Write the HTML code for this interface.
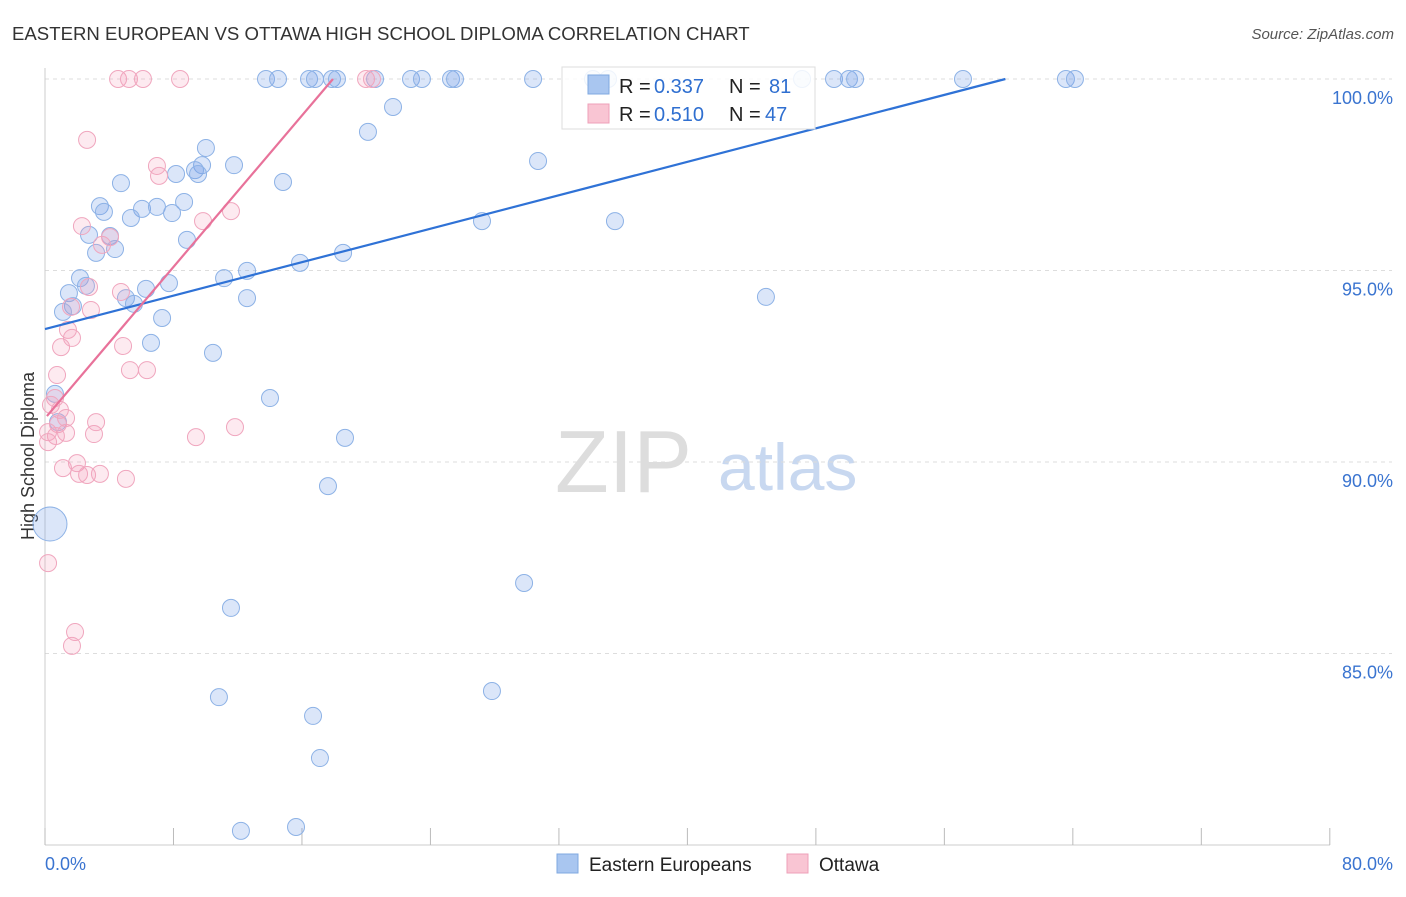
<!DOCTYPE html>
<html><head><meta charset="utf-8"><style>
body{margin:0;background:#fff;font-family:"Liberation Sans",sans-serif;}
svg text{font-family:"Liberation Sans",sans-serif;}
</style></head><body>
<svg id="chart" width="1406" height="892">
<text x="12" y="40" font-size="18.6" fill="#333">EASTERN EUROPEAN VS OTTAWA HIGH SCHOOL DIPLOMA CORRELATION CHART</text>
<text x="1394" y="39" font-size="15" fill="#555" font-style="italic" text-anchor="end">Source: ZipAtlas.com</text>
<text transform="translate(34,456) rotate(-90)" font-size="18" fill="#333" text-anchor="middle">High School Diploma</text>
<text x="555" y="492" font-size="88" fill="#ddd" font-family="Liberation Serif">ZIP</text>
<text x="718" y="490" font-size="66" fill="#c8d8f0">atlas</text>
<g id="grid"></g><g id="axes"></g><g id="pts"></g><g id="lines"></g>
<g>
<rect x="562" y="67" width="253" height="62" fill="#fff" fill-opacity="0.85" stroke="#ddd"/>
<rect x="588" y="75" width="21" height="19" fill="#a9c6f0" stroke="#7fa8e0"/>
<rect x="588" y="104" width="21" height="19" fill="#f9c5d3" stroke="#eea0b8"/>
<text x="619" y="93" font-size="20" fill="#222">R =</text>
<text x="654" y="93" font-size="20" fill="#2f6fd0">0.337</text>
<text x="729" y="93" font-size="20" fill="#222">N =</text>
<text x="769" y="93" font-size="20" fill="#2f6fd0">81</text>
<text x="619" y="121" font-size="20" fill="#222">R =</text>
<text x="654" y="121" font-size="20" fill="#2f6fd0">0.510</text>
<text x="729" y="121" font-size="20" fill="#222">N =</text>
<text x="765" y="121" font-size="20" fill="#2f6fd0">47</text>
</g>
<g>
<rect x="557" y="854" width="21" height="19" fill="#a9c6f0" stroke="#7fa8e0"/>
<text x="589" y="871" font-size="19" fill="#222">Eastern Europeans</text>
<rect x="787" y="854" width="21" height="19" fill="#f9c5d3" stroke="#eea0b8"/>
<text x="819" y="871" font-size="19" fill="#222">Ottawa</text>
</g>
</svg>
<script>
const blueX=[13.76,14.51,16.44,16.81,17.87,18.18,20.55,22.79,23.47,25.28,25.53,30.39,34.12,35.06,47.14,49.13,50.06,50.44,57.16,63.57,64.13,21.67,20.11,30.70,10.02,11.77,9.78,9.34,8.16,9.53,4.73,14.82,3.42,3.67,6.04,6.97,7.91,8.66,5.35,27.21,35.49,2.74,4.05,8.84,3.18,4.36,18.56,15.88,12.58,11.15,2.18,2.55,7.72,6.29,1.49,5.04,5.54,12.58,44.89,1.74,1.12,7.29,6.60,10.46,0.62,14.01,0.81,18.68,17.62,0.31,29.83,11.58,10.83,27.83,16.69,17.12,12.20,15.63];
const blueY=[100,100,100,100,100,100,100,100,100,100,100,100,100,100,100,100,100,100,100,100,100,99.27,98.62,97.86,98.20,97.75,97.75,97.62,97.52,97.52,97.28,97.31,96.68,96.53,96.61,96.66,96.50,96.79,96.37,96.29,96.29,95.93,95.90,95.80,95.46,95.56,95.46,95.20,94.99,94.80,94.80,94.60,94.67,94.52,94.41,94.28,94.13,94.28,94.31,94.07,93.92,93.76,93.11,92.85,91.78,91.67,91.04,90.63,89.37,88.38,86.84,86.19,83.86,84.02,83.37,82.27,80.37,80.47];
const pinkX=[4.55,5.23,6.10,8.41,19.99,20.36,2.62,6.97,7.10,11.58,9.84,2.30,4.05,3.55,2.74,4.73,1.62,2.86,1.43,1.68,1.00,4.86,5.29,6.35,0.75,0.62,0.37,0.93,1.31,3.18,0.81,0.19,1.31,3.05,0.68,9.40,11.83,0.19,1.12,1.99,2.12,2.62,3.42,5.04,0.19,1.87,1.68];
const pinkY=[100,100,100,100,100,100,98.41,97.73,97.47,96.55,96.29,96.16,95.87,95.67,94.57,94.44,94.05,93.97,93.45,93.24,93.00,93.03,92.40,92.40,92.27,91.67,91.49,91.36,91.15,91.04,90.99,90.78,90.76,90.73,90.68,90.65,90.91,90.52,89.84,89.97,89.69,89.66,89.69,89.56,87.36,85.56,85.20];
const blueTrend=[[0,93.47],[59.8,100]];
const pinkTrend=[[0.12,91.2],[17.93,100]];
const yTicks=[100,95,90,85];
const xTickLabels=["0.0%","80.0%"];
const NS="http://www.w3.org/2000/svg";
const sx=v=>45+v*16.06, sy=v=>79+(100-v)*38.3;
function mk(tag,attrs,parent){const e=document.createElementNS(NS,tag);for(const k in attrs)e.setAttribute(k,attrs[k]);document.getElementById(parent).appendChild(e);return e;}
yTicks.forEach(t=>{
 const l=mk('line',{x1:45,x2:1392,y1:sy(t),y2:sy(t),stroke:'#ddd','stroke-dasharray':'4,4'},'grid');
 
 
 const tx=mk('text',{x:1393,y:sy(t)+25,'font-size':18,fill:'#3a74d0','text-anchor':'end'},'grid');
 tx.textContent=t.toFixed(1)+'%';
 
 
});
mk('line',{x1:45,x2:45,y1:68,y2:845,stroke:'#ccc'},'axes');
mk('line',{x1:45,x2:1330,y1:845,y2:845,stroke:'#ccc'},'axes');
for(let i=0;i<=10;i++){const x=sx(i*8);const tk=mk('line',{x1:x,x2:x,y1:828,y2:845,stroke:'#bbb'},'axes');
 
 }
[[0,'start',45],[1,'end',1393]].forEach(([i,a,x])=>{const t=mk('text',{x:x,y:870,'font-size':18,fill:'#3a74d0','text-anchor':a},'axes');t.textContent=xTickLabels[i];
 
 });
blueX.forEach((x,i)=>{const big=(x===0.31);const c=mk('circle',{cx:sx(x),cy:sy(blueY[i]),r:big?17:8.5,fill:'rgba(110,155,230,0.25)',stroke:'#8db2e6','stroke-width':1},'pts');
 
 });
pinkX.forEach((x,i)=>{const c=mk('circle',{cx:sx(x),cy:sy(pinkY[i]),r:8.5,fill:'rgba(245,160,185,0.22)',stroke:'#f0a6be','stroke-width':1},'pts');
 
 });
const bl=mk('line',{x1:sx(blueTrend[0][0]),y1:sy(blueTrend[0][1]),x2:sx(blueTrend[1][0]),y2:sy(blueTrend[1][1]),stroke:'#2f72d6','stroke-width':2.2},'lines');


const pl=mk('line',{x1:sx(pinkTrend[0][0]),y1:sy(pinkTrend[0][1]),x2:sx(pinkTrend[1][0]),y2:sy(pinkTrend[1][1]),stroke:'#e8729a','stroke-width':2.2},'lines');


</script>
</body></html>
